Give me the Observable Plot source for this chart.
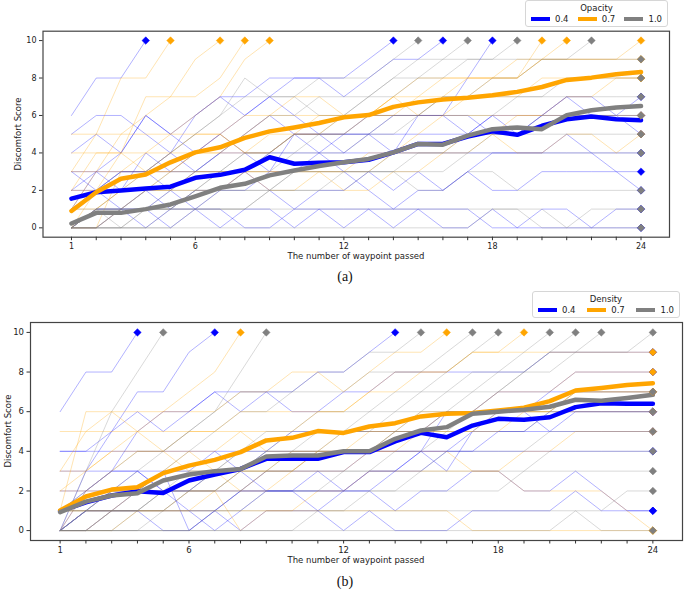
<!DOCTYPE html>
<html>
<head>
<meta charset="utf-8">
<script src="https://cdn.jsdelivr.net/npm/d3@7"></script>
<script src="https://cdn.jsdelivr.net/npm/@observablehq/plot@0.6"></script>
<style>
  html, body { margin: 0; padding: 0; background: #fff; }
  body { width: 685px; height: 591px; position: relative; overflow: hidden; font-family: "DejaVu Sans", sans-serif; }
  .legend { position: absolute; border: 1px solid #d6d6d6; border-radius: 3px; background: rgba(255,255,255,0.9); box-sizing: border-box; font-size: 8.5px; color: #222; }
  .legend .title { text-align: center; margin-top: 2px; line-height: 10px; }
  .legend .row { display: flex; align-items: center; justify-content: space-between; padding: 1px 5px 0 5px; line-height: 10px; }
  .legend .item { display: flex; align-items: center; }
  .legend .sw { display: inline-block; width: 19px; height: 4px; margin-right: 5px; }
  .xlabel { position: absolute; font-size: 8.5px; color: #222; transform: translateX(-50%); white-space: nowrap; }
  .ylabel { position: absolute; font-size: 8.5px; color: #222; transform: translate(-50%, -50%) rotate(-90deg); white-space: nowrap; }
  .cap { position: absolute; font-family: "Liberation Serif", serif; font-size: 14px; color: #111; transform: translateX(-50%); }
</style>
</head>
<body>
<script>
// ---------------- Data ----------------
const xTickLabels = [1, 6, 12, 18, 24];
const yTicks = [0, 2, 4, 6, 8, 10];
const levels = ["0.4", "0.7", "1.0"];
const levelColors = ["#0000ff", "#ffa500", "#808080"];

// Panel (a): Opacity — mean discomfort per waypoint
const meanA04 = [1.56,1.9,2.0,2.1,2.2,2.67,2.83,3.1,3.77,3.42,3.47,3.5,3.63,4.03,4.48,4.48,4.87,5.15,4.97,5.45,5.8,5.95,5.8,5.75];
const meanA07 = [0.9,1.9,2.62,2.85,3.5,4.03,4.3,4.8,5.15,5.36,5.6,5.9,6.02,6.46,6.7,6.85,6.95,7.08,7.26,7.52,7.9,8.02,8.2,8.32];
const meanA10 = [0.23,0.8,0.8,1.0,1.25,1.68,2.14,2.35,2.8,3.06,3.3,3.5,3.68,4.03,4.48,4.44,4.92,5.27,5.36,5.27,6.02,6.28,6.42,6.5];

// Panel (a): individual participants
const indivA04 = [
  [6,8,8,10],
  [5,6,6,5,4,6,7,6,7,8,8,8,9,10],
  [2,3,4,6,5,6,7,7,8,8,8,7,8,9,9,10],
  [1,3,2,4,3,4,5,4,3,5,5,4,5,6,6,6,8,10],
  [0,1,1,0,1,1,0,1,1,0,1,0,1,0,1,0,0,1,0,1,1,0,0,0],
  [3,2,1,2,1,2,2,3,2,1,2,2,3,2,3,2,3,2,2,3,3,3,3,3],
  [2,2,3,3,2,1,2,2,3,3,4,3,2,1,2,2,3,4,4,4,5,4,3,2],
  [0,0,1,1,0,1,1,0,0,1,1,1,1,1,1,1,1,0,0,0,0,0,1,1],
  [4,5,4,6,5,4,5,6,7,6,5,5,5,4,6,6,6,5,5,6,7,6,6,5],
  [1,2,3,3,4,3,4,5,6,5,4,5,6,6,6,6,5,6,5,6,7,7,6,7],
  [3,3,3,3,3,3,3,3,4,4,4,4,4,4,4,4,4,4,4,4,4,4,4,4],
  [0,1,1,1,2,3,4,4,4,5,5,5,5,5,5,5,5,6,6,6,6,6,6,6]
];
const indivA07 = [
  [3,5,8,8,10],
  [0,2,4,7,7,9,10],
  [1,3,5,6,7,7,8,10],
  [0,0,3,4,5,6,7,9,10],
  [5,5,5,5,5,5,5,4,4,5,6,6,6,7,7,8,8,8,8,9,10],
  [4,4,4,4,4,4,4,4,4,5,5,6,6,6,7,7,8,8,8,10],
  [2,2,2,2,2,2,2,3,3,3,3,3,3,4,5,6,7,8,8,9,9,9,9,10],
  [3,3,3,3,3,3,3,3,3,3,3,2,2,3,3,4,4,5,6,6,7,7,8,8],
  [1,1,2,2,3,4,4,5,6,6,6,6,6,6,6,6,6,6,6,6,6,6,6,6],
  [0,1,2,3,3,4,5,6,6,7,7,6,6,7,8,8,8,8,9,9,9,9,9,9],
  [0,0,1,2,2,3,3,3,2,2,3,3,4,4,4,4,5,5,4,4,5,5,4,5],
  [2,4,4,3,4,5,5,4,5,5,5,5,6,7,6,7,7,7,7,8,8,8,8,8]
];
const indivA10 = [
  [0,1,2,3,4,5,6,7,7,7,8,8,8,9,10],
  [0,0,1,2,3,3,4,5,6,6,7,7,7,7,8,9,10],
  [1,2,3,3,4,5,6,8,7,7,6,6,7,8,8,8,9,9,10],
  [0,1,1,2,2,3,3,4,4,5,5,5,6,6,6,7,7,8,8,9,9,10],
  [0,0,0,1,1,2,3,3,4,5,5,6,7,8,9,9,9,9,9,9,9,9,9,9],
  [0,1,1,1,2,2,3,4,4,4,5,5,5,6,6,7,7,7,7,7,8,8,8,8],
  [0,0,1,1,1,2,2,3,3,4,4,4,5,5,6,6,6,6,7,7,7,7,7,7],
  [0,1,1,1,1,1,2,2,2,3,3,3,3,3,4,4,5,5,5,6,6,6,6,6],
  [0,0,0,0,0,1,1,1,2,2,2,3,3,4,4,4,4,5,5,5,5,5,5,5],
  [0,1,0,1,1,1,1,1,2,2,2,2,3,3,3,3,4,4,4,4,4,4,4,4],
  [1,1,1,1,1,2,2,2,2,3,3,3,3,3,2,2,3,3,2,2,2,2,2,2],
  [0,0,0,0,1,1,1,1,1,1,1,1,1,1,1,1,1,1,1,0,0,1,1,1],
  [0,0,0,0,0,0,0,0,0,0,0,0,0,0,0,0,0,1,1,1,0,0,0,0]
];

// Panel (b): Density — mean discomfort per waypoint
const meanB04 = [0.98,1.43,1.77,1.99,1.9,2.53,2.83,3.11,3.62,3.62,3.62,3.96,3.96,4.5,4.93,4.71,5.3,5.64,5.59,5.72,6.23,6.43,6.4,6.4];
const meanB07 = [1.01,1.72,2.07,2.19,2.9,3.28,3.57,3.96,4.55,4.68,5.02,4.93,5.25,5.42,5.76,5.9,5.93,6.06,6.2,6.53,7.07,7.2,7.35,7.44];
const meanB10 = [0.93,1.46,1.77,1.89,2.53,2.83,3.0,3.11,3.74,3.79,3.79,4.0,4.0,4.63,5.05,5.22,5.9,6.0,6.1,6.25,6.6,6.55,6.69,6.85];

// Panel (b): individual participants
const indivB04 = [
  [6,8,8,10],
  [4,4,5,7,7,9,10],
  [0,3,5,6,5,6,7,6,7,7,8,8,9,10],
  [4,4,4,4,4,4,4,4,4,4,4,4,4,4,4,4,4,4,4,4,4,4,4,4],
  [0,1,2,3,3,0,1,2,2,2,1,2,2,1,2,2,3,3,2,2,3,2,1,1],
  [0,2,3,3,2,1,0,1,2,2,3,2,3,3,4,3,5,6,6,5,6,6,6,6],
  [0,0,1,1,0,0,1,0,1,1,1,0,1,0,0,0,1,1,1,1,2,1,1,1],
  [3,3,3,3,2,2,3,3,2,2,2,2,3,3,4,6,6,7,7,7,8,8,8,8],
  [1,2,3,5,6,6,7,7,7,6,6,7,7,8,8,8,8,8,8,9,9,9,9,9],
  [0,1,1,2,3,3,4,3,4,5,5,5,5,5,5,6,6,6,6,7,7,7,7,7],
  [2,2,2,2,2,2,2,2,3,3,3,3,4,4,4,4,5,5,5,5,5,5,5,5],
  [0,1,1,1,1,1,1,2,2,2,2,2,2,3,3,4,4,5,5,6,6,6,6,6]
];
const indivB07 = [
  [2,3,4,5,6,7,8,10],
  [3,5,6,6,6,6,6,7,7,8,8,7,8,9,9,10],
  [0,2,3,4,4,5,5,6,6,6,6,6,7,8,8,8,9,9,10],
  [5,5,5,5,5,5,5,5,5,5,6,6,7,7,8,8,9,9,9,9,9,9,9,9],
  [1,6,6,5,4,3,3,2,3,3,4,4,5,5,5,6,6,7,7,7,8,8,8,8],
  [2,2,2,2,2,2,2,2,2,3,3,3,4,4,5,5,5,5,6,6,7,7,7,7],
  [0,0,1,2,3,4,4,5,4,4,4,5,5,5,6,6,6,6,6,6,7,7,7,7],
  [1,1,1,1,1,1,2,3,3,3,4,4,4,5,5,5,5,6,6,6,6,6,6,6],
  [0,0,0,1,1,2,2,0,1,1,2,2,3,3,3,3,3,3,4,4,5,5,5,5],
  [3,3,4,4,4,4,3,3,3,4,4,4,4,4,4,4,3,3,2,2,2,2,1,0],
  [1,1,1,1,1,1,1,1,1,1,1,1,1,1,1,1,0,0,0,0,0,0,0,0]
];
const indivB10 = [
  [0,3,6,8,10],
  [0,1,2,3,4,5,6,8,10],
  [1,2,3,4,4,5,6,7,7,7,8,8,9,9,10],
  [0,1,2,2,3,4,5,6,6,7,7,7,8,8,8,9,10],
  [0,0,1,1,2,3,3,4,5,5,6,6,6,7,7,8,9,10],
  [0,1,1,2,2,2,3,3,4,4,5,5,6,6,7,7,8,8,9,10],
  [1,1,2,2,3,3,3,4,4,5,5,5,5,6,6,7,7,8,8,9,10],
  [0,0,0,1,1,2,2,3,3,3,4,4,4,5,5,6,6,7,8,9,9,10],
  [0,1,1,1,2,2,3,3,4,4,4,5,5,5,6,6,7,7,8,8,9,9,9,10],
  [1,1,1,1,2,2,2,3,3,4,4,4,4,5,5,5,6,6,6,6,7,7,7,7],
  [0,0,1,1,1,2,2,2,3,3,3,3,3,4,4,5,5,5,5,6,6,6,6,6],
  [0,0,0,0,1,1,1,2,2,2,2,3,3,3,3,4,4,4,4,5,5,5,5,5],
  [1,1,1,1,1,1,1,1,2,2,2,2,2,2,3,3,3,3,3,4,4,4,4,4],
  [0,0,0,0,0,0,1,1,1,1,1,1,2,2,2,2,2,2,3,3,3,3,3,3],
  [0,0,0,0,0,0,0,0,0,0,1,1,1,1,1,1,1,1,1,1,1,1,2,2],
  [0,0,0,0,0,0,0,0,0,0,0,0,0,0,0,0,0,0,0,0,1,0,0,0]
];

// ---------------- Build ----------------
function buildPanel(cfg) {
  const thin = [], ends = [], means = [];
  cfg.indiv.forEach((group, gi) => {
    group.forEach((vals, k) => {
      vals.forEach((v, i) => thin.push({x: i + 1, y: v, id: gi + "-" + k, c: levelColors[gi]}));
      ends.push({x: vals.length, y: vals[vals.length - 1], c: levelColors[gi], o: gi});
    });
  });
  cfg.means.forEach((vals, gi) => vals.forEach((v, i) => means.push({x: i + 1, y: v, g: gi, c: levelColors[gi]})));
  ends.sort((a, b) => a.o - b.o);

  const chart = Plot.plot({
    width: 685,
    height: cfg.height,
    marginLeft: cfg.ml, marginRight: cfg.mr, marginTop: cfg.mt, marginBottom: cfg.mb,
    style: {fontFamily: "DejaVu Sans, sans-serif", fontSize: cfg.fs + "px", color: "#222", background: "transparent", overflow: "visible"},
    x: {domain: [-0.15, 25.15]},
    y: {domain: [-0.5, 10.5]},
    color: {type: "identity"},
    marks: [
      Plot.line(thin, {x: "x", y: "y", z: "id", stroke: "c", strokeWidth: 0.8, strokeOpacity: 0.38}),
      Plot.line(means, {x: "x", y: "y", z: "g", stroke: "c", strokeWidth: 4.5, strokeLinejoin: "round"}),
      Plot.dot(ends, {x: "x", y: "y", fill: "c", symbol: "diamond2", r: 3.4, stroke: "c", strokeWidth: 0.5}),
      Plot.frame({stroke: "#444", strokeWidth: 1.2}),
      Plot.axisX({ticks: d3.range(1, 25), tickFormat: d => xTickLabels.includes(d) ? String(d) : "", tickSize: 3.5, tickPadding: 3, label: null, stroke: "#333"}),
      Plot.axisY({ticks: yTicks, tickSize: 3.5, tickPadding: 3, label: null, stroke: "#333"})
    ]
  });
  chart.style.position = "absolute";
  chart.style.left = "0px";
  chart.style.top = cfg.top + "px";
  document.body.appendChild(chart);
}

function addLegend(title, left, top, width, height) {
  const lg = document.createElement("div");
  lg.className = "legend";
  Object.assign(lg.style, {left: left + "px", top: top + "px", width: width + "px", height: height + "px"});
  const t = document.createElement("div");
  t.className = "title"; t.textContent = title; lg.appendChild(t);
  const row = document.createElement("div"); row.className = "row";
  levels.forEach((lv, i) => {
    const it = document.createElement("span"); it.className = "item";
    const sw = document.createElement("span"); sw.className = "sw"; sw.style.background = levelColors[i];
    it.appendChild(sw);
    it.appendChild(document.createTextNode(lv));
    row.appendChild(it);
  });
  lg.appendChild(row);
  document.body.appendChild(lg);
}

function addText(cls, text, left, top) {
  const d = document.createElement("div");
  d.className = cls; d.textContent = text;
  d.style.left = left + "px"; d.style.top = top + "px";
  document.body.appendChild(d);
}

// Panel (a)
buildPanel({indiv: [indivA04, indivA07, indivA10], means: [meanA04, meanA07, meanA10],
  top: 0, height: 270, ml: 42.5, mr: 16, mt: 30.7, mb: 33.3, fs: 8});
addLegend("Opacity", 525, 0, 143, 27);
addText("ylabel", "Discomfort Score", 18, 134);
addText("xlabel", "The number of waypoint passed", 356, 251);
addText("cap", "(a)", 345, 269);

// Panel (b)
buildPanel({indiv: [indivB04, indivB07, indivB10], means: [meanB04, meanB07, meanB10],
  top: 290, height: 280, ml: 30, mr: 3, mt: 32, mb: 30, fs: 8.5});
addLegend("Density", 532, 291, 148, 27);
addText("ylabel", "Discomfort Score", 8, 431);
addText("xlabel", "The number of waypoint passed", 356, 555);
addText("cap", "(b)", 345, 574);
</script>
</body>
</html>
